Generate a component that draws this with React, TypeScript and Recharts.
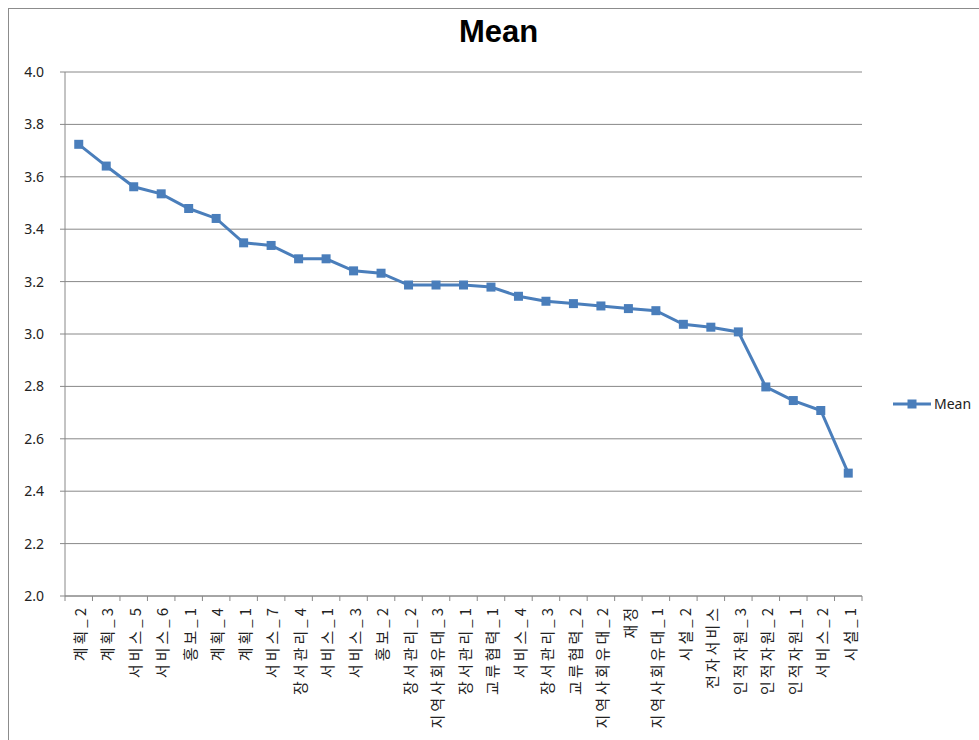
import React from "react";
import { LineChart, Line, XAxis, YAxis, CartesianGrid } from "recharts";

const categories = [
  "계획_2", "계획_3", "서비스_5", "서비스_6", "홍보_1", "계획_4", "계획_1", "서비스_7",
  "장서관리_4", "서비스_1", "서비스_3", "홍보_2", "장서관리_2", "지역사회유대_3", "장서관리_1",
  "교류협력_1", "서비스_4", "장서관리_3", "교류협력_2", "지역사회유대_2", "재정", "지역사회유대_1",
  "시설_2", "전자서비스", "인적자원_3", "인적자원_2", "인적자원_1", "서비스_2", "시설_1",
];

const meanValues = [
  3.724, 3.641, 3.562, 3.535, 3.479, 3.441, 3.348, 3.338, 3.287, 3.287, 3.241, 3.232,
  3.187, 3.187, 3.187, 3.179, 3.144, 3.125, 3.116, 3.107, 3.097, 3.089, 3.037, 3.026,
  3.008, 2.798, 2.746, 2.708, 2.469,
];

const yTicks = [2.0, 2.2, 2.4, 2.6, 2.8, 3.0, 3.2, 3.4, 3.6, 3.8, 4.0];

const data = categories.map((name, i) => ({ name, Mean: meanValues[i] }));

const W = 979;
const H = 740;
const PLOT_LEFT = 65;
const PLOT_RIGHT = 862;
const PLOT_TOP = 72;
const PLOT_BOTTOM = 596;
const STEP = (PLOT_RIGHT - PLOT_LEFT) / categories.length;
const BLUE = "#4a7ebb";
const GRID = "#888888";
const FONT = "'Noto Sans CJK KR', 'Noto Sans', sans-serif";

const XTick = (props: any) => {
  const { x, payload, index } = props;
  const left = x - STEP / 2;
  const isLast = index === categories.length - 1;
  return (
    <g>
      <line x1={left} y1={PLOT_BOTTOM} x2={left} y2={PLOT_BOTTOM + 5} stroke={GRID} strokeWidth={1} />
      {isLast && (
        <line x1={x + STEP / 2} y1={PLOT_BOTTOM} x2={x + STEP / 2} y2={PLOT_BOTTOM + 5} stroke={GRID} strokeWidth={1} />
      )}
      <text
        x={x + 2}
        y={PLOT_BOTTOM + 9}
        transform={`rotate(-90, ${x + 2}, ${PLOT_BOTTOM + 9})`}
        textAnchor="end"
        dy="0.35em"
        fontSize={15}
        letterSpacing={3}
        fontFamily={FONT}
        fill="#222"
      >
        {payload.value}
      </text>
    </g>
  );
};

const SquareDot = (props: any) => {
  const { cx, cy, index } = props;
  if (cx == null || cy == null) return null;
  return <rect key={`d${index}`} x={cx - 4.5} y={cy - 4.5} width={9} height={9} fill={BLUE} />;
};

export default function App() {
  return (
    <div style={{ position: "absolute", left: 0, top: 0, width: W, height: H, background: "#fff", overflow: "hidden" }}>
      <div
        style={{
          position: "absolute",
          left: 8,
          top: 8,
          width: W,
          height: H,
          borderLeft: "1px solid #8c8c8c",
          borderTop: "1px solid #8c8c8c",
          boxSizing: "border-box",
        }}
      />
      <div
        style={{
          position: "absolute",
          left: 0,
          width: W,
          top: 14,
          textAlign: "center",
          fontFamily: "'Liberation Sans', Arial, sans-serif",
          fontWeight: "bold",
          fontSize: 31,
          color: "#000",
          paddingLeft: 18,
          boxSizing: "border-box",
        }}
      >
        Mean
      </div>
      <div style={{ position: "absolute", left: 0, top: 0 }}>
        <LineChart
          width={W}
          height={H}
          data={data}
          margin={{ top: PLOT_TOP, right: W - PLOT_RIGHT, bottom: 4, left: 0 }}
        >
          <CartesianGrid vertical={false} stroke={GRID} strokeWidth={1} />
          <XAxis
            dataKey="name"
            scale="band"
            interval={0}
            height={H - PLOT_BOTTOM - 4}
            tick={<XTick />}
            tickLine={false}
            axisLine={{ stroke: GRID }}
          />
          <YAxis
            domain={[2, 4]}
            ticks={yTicks}
            width={PLOT_LEFT}
            tickFormatter={(v: number) => v.toFixed(1)}
            tick={{ fontSize: 14, fill: "#222", fontFamily: "'Noto Sans', sans-serif" }}
            tickSize={5}
            tickMargin={16}
            tickLine={{ stroke: GRID }}
            axisLine={{ stroke: GRID }}
            interval={0}
          />
          <Line
            type="linear"
            dataKey="Mean"
            stroke={BLUE}
            strokeWidth={3}
            dot={<SquareDot />}
            activeDot={false}
            isAnimationActive={false}
          />
        </LineChart>
      </div>
      <div
        style={{
          position: "absolute",
          left: 893,
          top: 394,
          display: "flex",
          alignItems: "center",
          fontFamily: "'Noto Sans', sans-serif",
          fontSize: 14,
          color: "#222",
        }}
      >
        <svg width={38} height={14}>
          <line x1={0} y1={7} x2={38} y2={7} stroke={BLUE} strokeWidth={3} />
          <rect x={14.5} y={2.5} width={9} height={9} fill={BLUE} />
        </svg>
        <span style={{ marginLeft: 3 }}>Mean</span>
      </div>
    </div>
  );
}
